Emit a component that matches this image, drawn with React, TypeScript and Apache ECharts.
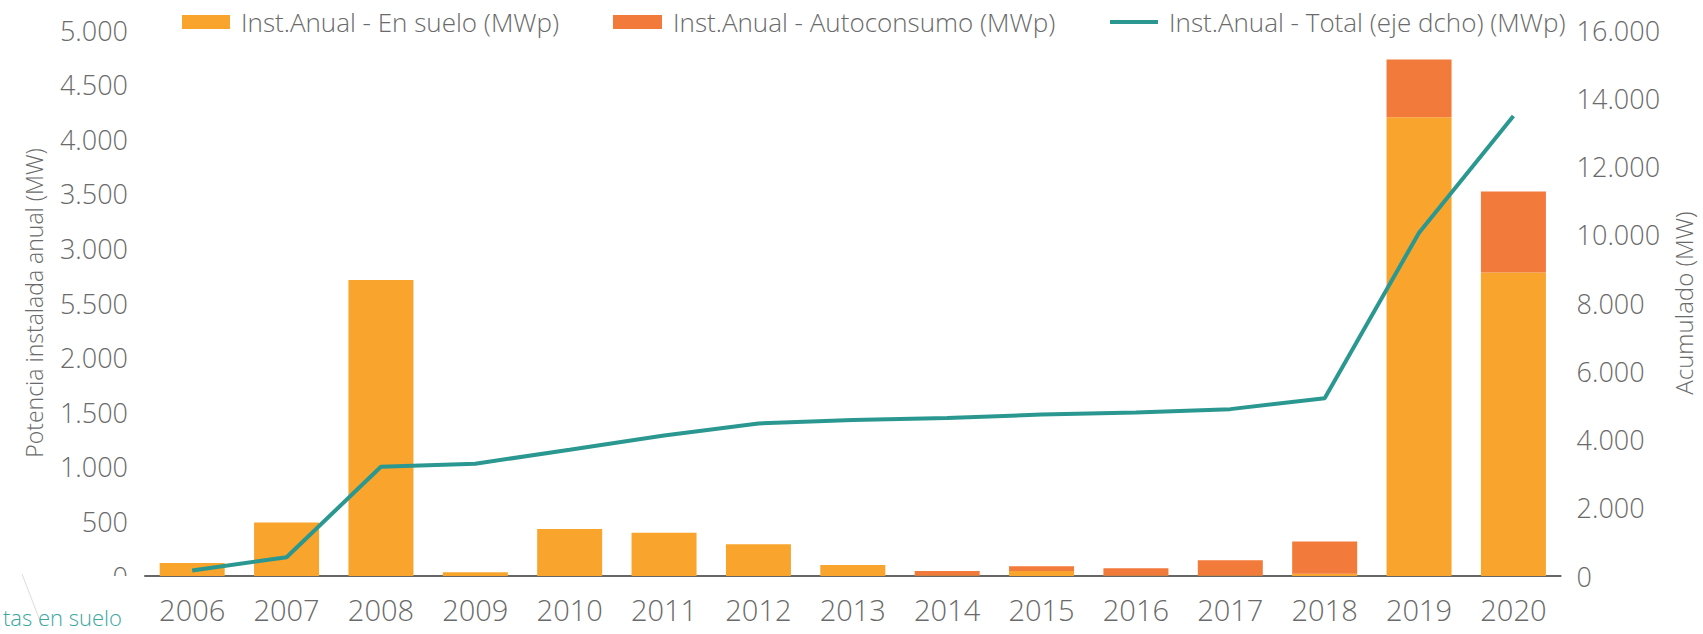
import React, { useEffect, useRef } from "react";
import * as echarts from "echarts";

const years = ["2006","2007","2008","2009","2010","2011","2012","2013","2014","2015","2016","2017","2018","2019","2020"];
const enSuelo = [120, 490, 2710, 35, 430, 395, 290, 100, 5, 45, 5, 5, 20, 4200, 2780];
const autoconsumo = [0, 0, 0, 0, 0, 0, 0, 0, 40, 45, 65, 140, 295, 530, 740];
const totalAcum = [160, 550, 3200, 3290, 3700, 4120, 4470, 4570, 4630, 4730, 4790, 4890, 5210, 10060, 13480];
const leftTickLabels = ["0","500","1.000","1.500","2.000","5.500","3.000","3.500","4.000","4.500","5.000"];
const rightTickLabels = ["0","2.000","4.000","6.000","8.000","10.000","12.000","14.000","16.000"];

const FONT = "'Open Sans', 'Noto Sans', sans-serif";
const GRAY = "#6a6a6a";

export default function App() {
  const ref = useRef<HTMLDivElement>(null);
  useEffect(() => {
    document.body.style.margin = "0";
    const chart = echarts.init(ref.current!, null, { renderer: "svg" });
    const legendText = { fontFamily: FONT, fontSize: 26, fontWeight: 300, color: GRAY, padding: [0, 0, 0, 6] };
    chart.setOption({
      animation: false,
      backgroundColor: "#ffffff",
      grid: { left: 145, right: 130, top: 30, bottom: 58 },
      legend: [
        { data: ["Inst.Anual - En suelo (MWp)"], left: 177, top: 4, itemWidth: 48, itemHeight: 14, icon: "rect", textStyle: legendText },
        { data: ["Inst.Anual - Autoconsumo (MWp)"], left: 608, top: 4, itemWidth: 49, itemHeight: 14, icon: "rect", textStyle: legendText },
        { data: ["Inst.Anual - Total (eje dcho) (MWp)"], left: 1105, top: 4, itemWidth: 48, itemHeight: 4, icon: "rect", textStyle: legendText },
      ],
      xAxis: {
        type: "category",
        data: years,
        axisLine: { lineStyle: { color: "#666", width: 2 } },
        axisTick: { show: false },
        axisLabel: { fontFamily: FONT, fontSize: 29, fontWeight: 300, color: GRAY, margin: 19 },
      },
      yAxis: [
        {
          type: "value", min: 0, max: 5000, interval: 500,
          name: "Potencia instalada anual (MW)", nameLocation: "middle", nameGap: 100, nameRotate: 90,
          nameTextStyle: { fontFamily: FONT, fontSize: 23, fontWeight: 300, color: GRAY },
          splitLine: { show: false }, axisLine: { show: false }, axisTick: { show: false },
          axisLabel: { fontFamily: FONT, fontSize: 27, fontWeight: 300, color: GRAY, margin: 17, padding: [0, 0, 5, 0],
            formatter: (v: number) => leftTickLabels[Math.round(v / 500)] ?? "" },
        },
        {
          type: "value", min: 0, max: 16000, interval: 2000,
          name: "Acumulado (MW)", nameLocation: "middle", nameGap: 106, nameRotate: 90,
          nameTextStyle: { fontFamily: FONT, fontSize: 24, fontWeight: 300, color: GRAY },
          splitLine: { show: false }, axisLine: { show: false }, axisTick: { show: false },
          axisLabel: { fontFamily: FONT, fontSize: 27, fontWeight: 300, color: GRAY, margin: 16, padding: [0, 0, 5, 0],
            formatter: (v: number) => rightTickLabels[Math.round(v / 2000)] ?? "" },
        },
      ],
      series: [
        { name: "Inst.Anual - En suelo (MWp)", type: "bar", stack: "t", data: enSuelo, barWidth: 65, itemStyle: { color: "#F8A42D" } },
        { name: "Inst.Anual - Autoconsumo (MWp)", type: "bar", stack: "t", data: autoconsumo, barWidth: 65, itemStyle: { color: "#F27A3A" } },
        { name: "Inst.Anual - Total (eje dcho) (MWp)", type: "line", yAxisIndex: 1, data: totalAcum, symbol: "none",
          lineStyle: { color: "#2A9890", width: 4 }, itemStyle: { color: "#2A9890" } },
      ],
      graphic: [
        { type: "rect", left: 0, top: 576, shape: { width: 140, height: 58 }, style: { fill: "#ffffff" }, z: 100 },
        { type: "line", shape: { x1: 22, y1: 574, x2: 42, y2: 626 }, style: { stroke: "#dcdcdc", lineWidth: 1 }, z: 101 },
        { type: "text", x: 3, y: 617, style: { text: "tas en suelo", fontFamily: FONT, fontSize: 22, fontWeight: 300, fill: "#3aa7a0", align: "left", verticalAlign: "middle" }, z: 102 },
      ],
    });
    return () => chart.dispose();
  }, []);
  return <div ref={ref} style={{ position: "fixed", left: 0, top: 0, width: 1703, height: 634 }} />;
}
